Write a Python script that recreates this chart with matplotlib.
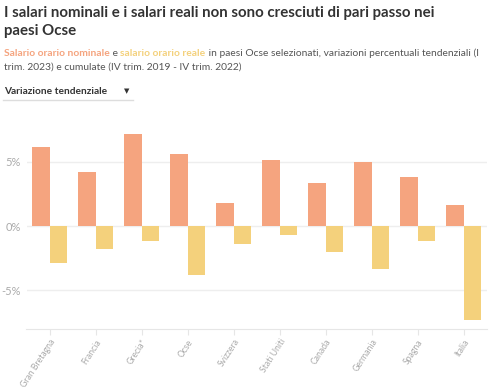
import matplotlib
matplotlib.use('Agg')
import matplotlib.pyplot as plt
import numpy as np

plt.rcParams['font.family'] = ['Lato', 'DejaVu Sans']

paesi = ['Gran Bretagna', 'Francia', 'Grecia*', 'Ocse', 'Svizzera',
         'Stati Uniti', 'Canada', 'Germania', 'Spagna', 'Italia']
nominale = [6.1, 4.2, 7.1, 5.6, 1.8, 5.1, 3.3, 5.0, 3.8, 1.6]
reale = [-2.9, -1.8, -1.2, -3.8, -1.4, -0.7, -2.0, -3.3, -1.2, -7.3]
y_ticks = [-5, 0, 5]

c_nom = '#F5A47F'
c_real = '#F4D17C'
grigio = '#aaaaaa'

fig = plt.figure(figsize=(5, 3.9), dpi=100)
ax = fig.add_axes([0.053, 0.156, 0.92, 0.562])

x = np.arange(len(paesi))
w = 0.37
ax.bar(x - w / 2, nominale, width=w, color=c_nom, zorder=3)
ax.bar(x + w / 2, reale, width=w, color=c_real, zorder=3)

ax.set_xlim(-0.5, 9.5)
ax.set_ylim(-8, 9)
ax.set_yticks(y_ticks)
ax.set_yticklabels([f'{v}%' for v in y_ticks], color=grigio, fontsize=8)
ax.yaxis.grid(True, color='#eeeeee', lw=1, zorder=0)
ax.tick_params(axis='y', length=0, pad=4)
ax.set_xticks(x)
ax.set_xticklabels(paesi, rotation=57, ha='right', rotation_mode='anchor',
                   color=grigio, fontsize=6.2)
ax.tick_params(axis='x', length=4, color='#e6e6e6', pad=2)
for s in ['top', 'right', 'left']:
    ax.spines[s].set_visible(False)
ax.spines['bottom'].set_color('#e6e6e6')

# titolo
fig.text(0.008, 0.985, 'I salari nominali e i salari reali non sono cresciuti di pari passo nei\npaesi Ocse',
         fontsize=10.8, fontweight='bold', color='#333333', va='top', linespacing=1.35)

# sottotitolo con parole colorate
fig.canvas.draw()
r = fig.canvas.get_renderer()
pezzi = [('Salario orario nominale', c_nom, 'bold'), (' e ', '#555555', 'normal'),
         ('salario orario reale', c_real, 'bold'),
         (' in paesi Ocse selezionati, variazioni percentuali tendenziali (I', '#555555', 'normal')]
px = 4
for testo, col, peso in pezzi:
    t = fig.text(px / 500, 1 - 53 / 390, testo, fontsize=7.4, color=col, fontweight=peso, va='center')
    px += t.get_window_extent(r).width
fig.text(4 / 500, 1 - 67 / 390, 'trim. 2023) e cumulate (IV trim. 2019 - IV trim. 2022)',
         fontsize=7.4, color='#555555', va='center')

# menu a tendina
fig.text(4 / 500, 1 - 91 / 390, 'Variazione tendenziale', fontsize=7.3, fontweight='bold',
         color='#333333', va='center')
fig.text(127 / 500, 1 - 91 / 390, '▼', fontsize=5, color='#333333', va='center', ha='center',
         family='DejaVu Sans')
fig.add_artist(plt.Line2D([3 / 500, 133 / 500], [1 - 100 / 390] * 2, color='#dddddd', lw=1))

fig.savefig('out.png', dpi=100)
